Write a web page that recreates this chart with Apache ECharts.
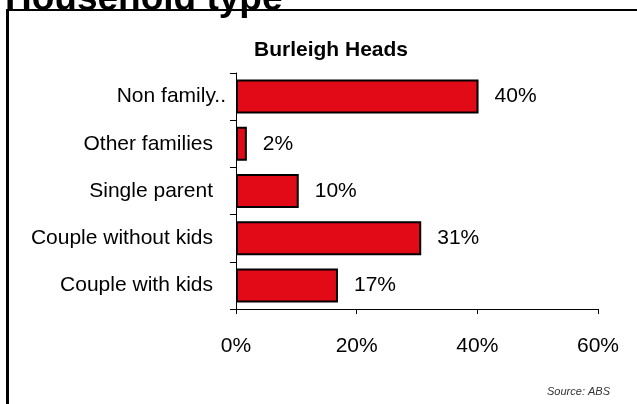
<!DOCTYPE html>
<html>
<head>
<meta charset="utf-8">
<script src="https://cdn.jsdelivr.net/npm/echarts@6/dist/echarts.min.js"></script>
<style>
html,body{margin:0;padding:0;background:#fff;}
#c{width:637px;height:404px;}
</style>
</head>
<body>
<div id="c"></div>
<script>
var categories = ['Couple with kids', 'Couple without kids', 'Single parent', 'Other families', 'Non family..'];
var values = [16.9, 30.7, 10.4, 1.8, 40.2];
var xTicks = [0, 20, 40, 60];
var pageTitle = 'Household type';
var chartTitle = 'Burleigh Heads';
var sourceText = 'Source: ABS';

var chart = echarts.init(document.getElementById('c'), null, {renderer: 'canvas'});
var font = '"Liberation Sans", Arial, sans-serif';
chart.setOption({
  animation: false,
  backgroundColor: '#fff',
  title: {
    text: chartTitle,
    left: 326, top: 35, textAlign: 'center',
    textStyle: {fontFamily: font, fontWeight: 'bold', fontSize: 21, color: '#000'}
  },
  grid: {left: 236, right: 39, top: 73, bottom: 95, containLabel: false},
  xAxis: {
    type: 'value', min: xTicks[0], max: xTicks[xTicks.length - 1], interval: 20,
    axisLine: {show: true, lineStyle: {color: '#000', width: 1}},
    axisTick: {show: true, length: 5, lineStyle: {color: '#000'}},
    splitLine: {show: false},
    axisLabel: {formatter: '{value}%', margin: 27, fontFamily: font, fontSize: 21, color: '#000'}
  },
  yAxis: {
    type: 'category', data: categories,
    axisLine: {show: true, lineStyle: {color: '#000', width: 1}},
    axisTick: {show: true, length: 6, lineStyle: {color: '#000'}},
    axisLabel: {
      margin: 10, fontFamily: font, fontSize: 21, color: '#000',
      formatter: function (v) { return v === 'Non family..' ? v : v + '{s| }'; },
      rich: {s: {width: 13, fontSize: 21}}
    }
  },
  series: [{
    type: 'bar', data: values, barWidth: 34,
    itemStyle: {color: '#E20A17', borderColor: '#000', borderWidth: 2},
    label: {
      show: true, position: 'right', distance: 16,
      fontFamily: font, fontSize: 21, color: '#000',
      formatter: function (p) { return Math.round(p.value) + '%'; }
    }
  }],
  graphic: [
    {type: 'line', shape: {x1: 7.5, y1: 10, x2: 7.5, y2: 404}, style: {stroke: '#000', lineWidth: 3}, z: 100},
    {type: 'line', shape: {x1: 6, y1: 10, x2: 637, y2: 10}, style: {stroke: '#000', lineWidth: 2}, z: 100},
    {type: 'text', left: 5, top: -19, style: {text: pageTitle, font: 'bold 37px "Liberation Sans", Arial, sans-serif', fill: '#000'}, z: 101},
    {type: 'text', right: 27, top: 386, style: {text: sourceText, font: 'italic 11px "Liberation Sans Narrow", "Liberation Sans", Arial, sans-serif', fill: '#333'}, z: 101}
  ]
});
</script>
</body>
</html>
